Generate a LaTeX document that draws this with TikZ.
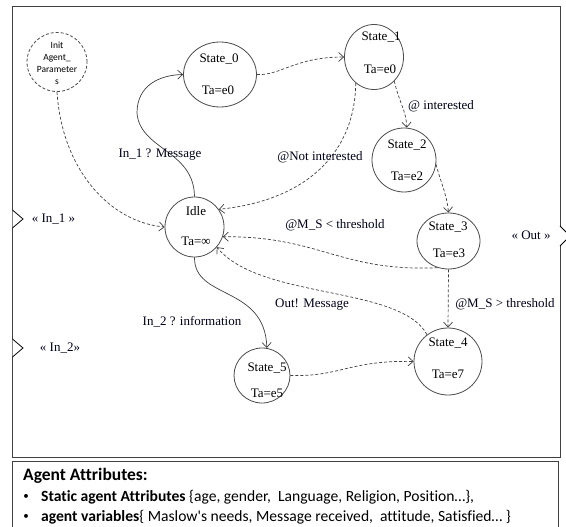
\documentclass[tikz,border=0pt]{standalone}
\usepackage{fontspec}
\setmainfont{Liberation Serif}
\newfontfamily\carl[Ligatures={NoCommon}]{Carlito}
\usetikzlibrary{arrows.meta,shapes.geometric}
\begin{document}
\begin{tikzpicture}[x=1pt,y=-1pt,
  st/.style={draw=black!70, line width=0.8pt, ellipse, inner sep=0pt},
  stt/.style={font=\fontsize{13}{15}\selectfont, inner sep=0pt},
  lbl/.style={font=\fontsize{13}{15}\selectfont, text=black!90!blue, inner sep=0pt},
  tr/.style={draw=black!75, line width=0.7pt, -{Straight Barb[length=5pt,width=9pt]}},
  dtr/.style={tr, dash pattern=on 3pt off 2pt},
  frame/.style={draw=black!75, line width=1pt},
  port/.style={draw=black, line width=0.8pt, fill=white},
  bul/.style={font=\carl\fontsize{11}{13}\selectfont, inner sep=0pt},
  atxt/.style={font=\carl\fontsize{15.6}{19}\selectfont, anchor=west, inner sep=0pt},
]
\useasboundingbox (0,0) rectangle (566,527);
\fill[white] (0,0) rectangle (566,527);

% frames
\draw[frame] (12.5,7) rectangle (560,457.5);
\draw[frame] (12,535) -- (12,461.5) -- (558,461.5) -- (558,535);

% ports
\draw[port] (12.5,210) -- (23,219) -- (12.5,228);
\draw[port] (12.5,339) -- (23,348) -- (12.5,357);
\draw[port] (560,226) -- (570,236) -- (560,246);
\node[lbl] (pin1) at (53.5,219) {« In\_1 »};
\node[lbl] (pin2) at (60,348) {« In\_2»};
\node[lbl] (pout) at (531,235) {« Out »};

% states
\node[st, dashed, dash pattern=on 3pt off 2pt, minimum width=60pt, minimum height=59pt] (init) at (57,62) {};
\node[font=\carl\fontsize{9.5}{12}\selectfont, align=center, inner sep=0pt] (initt) at (57,63) {Init\\Agent\_\\Parameter\\s};

\node[st, minimum width=73pt, minimum height=65pt] (s0) at (220,74.5) {};
\node[stt] (s0a) at (219,59) {State\_0};
\node[stt] (s0b) at (218,90) {Ta=e0};

\node[st, minimum width=59pt, minimum height=65pt] (s1) at (374,57) {};
\node[stt] (s1a) at (381,37) {State\_1};
\node[stt] (s1b) at (380,69) {Ta=e0};

\node[st, minimum width=64pt, minimum height=64pt] (s2) at (404,160) {};
\node[stt] (s2a) at (407,145) {State\_2};
\node[stt] (s2b) at (407,176) {Ta=e2};

\node[st, minimum width=63pt, minimum height=56pt] (s3) at (448.5,241) {};
\node[stt] (s3a) at (448,227) {State\_3};
\node[stt] (s3b) at (449,253) {Ta=e3};

\node[st, minimum width=59pt, minimum height=60pt] (idle) at (194.5,227) {};
\node[stt] (idlea) at (196,211) {Idle};
\node[stt] (idleb) at (196,241) {Ta=∞};

\node[st, minimum width=68pt, minimum height=67pt] (s4) at (448,361.5) {};
\node[stt] (s4a) at (448,343) {State\_4};
\node[stt] (s4b) at (448,374) {Ta=e7};

\node[st, minimum width=56pt, minimum height=55pt] (s5) at (262,375.5) {};
\node[stt] (s5a) at (267,368) {State\_5};
\node[stt] (s5b) at (267,393) {Ta=e5};

% connectors
\coordinate (m1) at (137,113);
\draw[dtr] (init.south) .. controls (62,170) and (110,222) .. (idle.west);
\draw[tr] (idle.north) .. controls (194,150) and (140,150) .. (m1) .. controls (137,85) and (160,75) .. (s0.west);
\draw[dtr] (s0.east) .. controls (280,76) and (295,57) .. (s1.west);
\draw[dtr] (s1.235) .. controls (355,150) and (310,200) .. (idle.36);
\draw[dtr] (s1.-50) .. controls (400,105) and (406,110) .. (s2.85);
\draw[dtr] (s2.-8) .. controls (440,180) and (447,195) .. (s3.north);
\draw[dtr] (s3.248) .. controls (340,272) and (320,236) .. (idle.-19);
\draw[dtr] (s4.128) .. controls (400,285) and (260,300) .. (idle.-42);
\draw[dtr] (s3.south) -- (s4.north);
\draw[tr] (idle.south) .. controls (194,300) and (265,285) .. (s5.80);
\draw[dtr] (s5.east) .. controls (340,377) and (350,360) .. (s4.west);

% labels
\node[lbl] (l1) at (160,155) {In\_1 ? Message};
\node[lbl] (l2) at (320,157) {@Not interested};
\node[lbl, anchor=west] (l3) at (408,106.5) {@ interested};
\node[lbl] (l4) at (335,225) {@M\_S < threshold};
\node[lbl] (l5) at (312,305) {Out! Message};
\node[lbl] (l6) at (505,304) {@M\_S > threshold};
\node[lbl] (l7) at (192,322) {In\_2 ? information};

% attributes
\node[font=\carl\bfseries\fontsize{17.5}{20}\selectfont, anchor=west, inner sep=0pt] (attr) at (23,476) {Agent Attributes:};
\node[bul] (b1) at (26,497) {•};
\node[atxt] (t1) at (41,497) {\textbf{Static agent Attributes} \{age, gender,~ Language, Religion, Position…\},};
\node[bul] (b2) at (26,517) {•};
\node[atxt] (t2) at (41,517) {\textbf{agent variables}\{ Maslow's needs, Message received,~ attitude, Satisfied… \}};
\end{tikzpicture}
\end{document}
